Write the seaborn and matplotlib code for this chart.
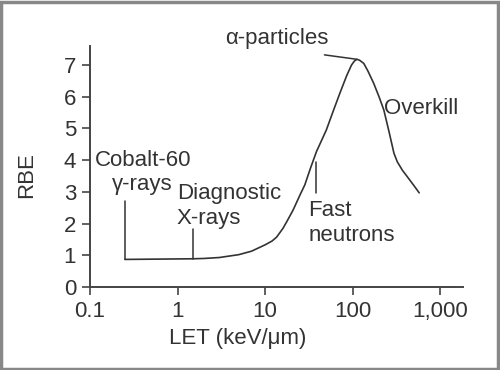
import numpy as np
import pandas as pd
import matplotlib
matplotlib.use("Agg")
import matplotlib.pyplot as plt
import seaborn as sns
from matplotlib.patches import Rectangle

# RBE vs LET curve
let_vals = [0.25, 1.5, 2, 3, 5, 7, 10, 12, 13.5, 16, 18, 20.9, 25, 28.4, 33,
            38.6, 50, 60, 71.4, 85, 97, 105, 112, 120, 134, 150, 174, 200,
            227, 260, 296, 323, 370, 420, 500, 575]
rbe_vals = [0.87, 0.89, 0.90, 0.93, 1.02, 1.13, 1.33, 1.45, 1.57, 1.85, 2.1,
            2.43, 2.9, 3.22, 3.75, 4.27, 4.95, 5.55, 6.11, 6.65, 7.0, 7.13,
            7.18, 7.15, 7.05, 6.8, 6.42, 6.0, 5.58, 4.9, 4.22, 3.95, 3.68,
            3.48, 3.2, 2.97]

x_ticks = [0.1, 1, 10, 100, 1000]
x_tick_labels = ["0.1", "1", "10", "100", "1,000"]
y_ticks = [0, 1, 2, 3, 4, 5, 6, 7]

# leader lines: (x0, y0, x1, y1)
cobalt_line = (0.25, 2.71, 0.25, 0.87)
diag_line = (1.5, 1.83, 1.5, 0.89)
neutron_line = (38.6, 3.93, 38.6, 2.97)
alpha_line = (47.6, 7.32, 112, 7.18)

df = pd.DataFrame({"LET": let_vals, "RBE": rbe_vals})

sns.set_style("ticks")
plt.rcParams["font.family"] = ["Liberation Sans", "DejaVu Sans"]
ink = "#333333"

fig = plt.figure(figsize=(5, 3.7), dpi=100)
ax = fig.add_axes([0.18, 0.2243, 0.746, 0.6514])

sns.lineplot(data=df, x="LET", y="RBE", ax=ax, color=ink, linewidth=1.2)
ax.set_xscale("log")

for x0, y0, x1, y1 in [cobalt_line, diag_line, neutron_line, alpha_line]:
    ax.plot([x0, x1], [y0, y1], color=ink, linewidth=1.1)

ax.set_xlim(0.1, 1820)
ax.set_ylim(0, 7.6)
ax.set_xticks(x_ticks)
ax.set_xticklabels(x_tick_labels)
ax.xaxis.set_minor_locator(matplotlib.ticker.NullLocator())
ax.set_yticks(y_ticks)

fs = 16
ax.tick_params(axis="both", labelsize=fs, length=6, width=1.2, color="#444444",
               labelcolor=ink, pad=4)
for s in ["left", "bottom"]:
    ax.spines[s].set_color("#444444")
    ax.spines[s].set_linewidth(1.4)
sns.despine(ax=ax)

ax.set_xlabel("LET (keV/μm)", fontsize=fs, color=ink)
ax.xaxis.set_label_coords(0.397, -0.17)
ax.set_ylabel("RBE", fontsize=fs, color=ink)
ax.yaxis.set_label_coords(-0.142, 0.465)

ax.text(0.114, 4.0, "Cobalt-60", fontsize=fs, color=ink, va="center", ha="left")
ax.text(0.39, 3.22, "γ-rays", fontsize=fs, color=ink, va="center", ha="center")
ax.text(0.98, 2.96, "Diagnostic", fontsize=fs, color=ink, va="center", ha="left")
ax.text(0.98, 2.17, "X-rays", fontsize=fs, color=ink, va="center", ha="left")
ax.text(31, 2.4, "Fast", fontsize=fs, color=ink, va="center", ha="left")
ax.text(31, 1.61, "neutrons", fontsize=fs, color=ink, va="center", ha="left")
ax.text(227, 5.64, "Overkill", fontsize=fs, color=ink, va="center", ha="left")
ax.text(3.5, 7.85, "α-particles", fontsize=fs, color=ink, va="center", ha="left",
        clip_on=False)

# grey frame around the figure
fig.patches.append(Rectangle((0.002, 0.004), 0.993, 0.99, transform=fig.transFigure,
                             fill=False, edgecolor="#888888", linewidth=2.5))

fig.savefig("out.png", dpi=100)
